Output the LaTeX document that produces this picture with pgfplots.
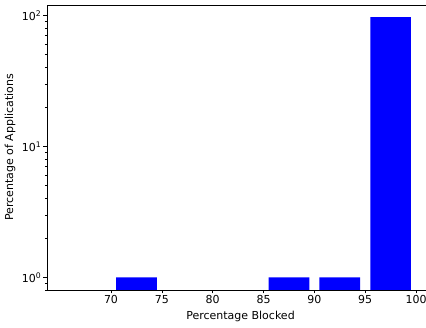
\documentclass[border=0pt]{standalone}
\usepackage{fontspec}
\setmainfont{DejaVu Sans}
\usepackage{pgfplots}
\pgfplotsset{compat=1.18}
\begin{document}
\fontsize{11}{13}\selectfont
\begin{tikzpicture}
\begin{axis}[
  at={(0,0)}, anchor=south west,
  scale only axis, width=387pt, height=285pt,
  xmin=63.705, xmax=101.77,
  ymode=log, ymin=0.8, ymax=120,
  log origin y=infty,
  xtick={70,75,80,85,90,95,100},
  ytick={1,10,100},
  yticklabels={10\textsuperscript{0},10\textsuperscript{1},10\textsuperscript{2}},
  minor ytick={0.8,0.9,2,3,4,5,6,7,8,9,20,30,40,50,60,70,80,90},
  /pgf/number format/assume math mode=true,
  tick pos=left,
  tick align=outside,
  major tick length=3.5pt,
  minor tick length=2pt,
  every tick/.style={black, line width=0.6pt},
  axis line style={black, line width=0.7pt},
  xticklabel style={font=\fontsize{11}{13}\selectfont, inner sep=1pt, yshift=-1pt},
  yticklabel style={font=\fontsize{11}{13}\selectfont, inner sep=1pt, xshift=-1pt},
  xlabel={Percentage Blocked},
  ylabel={Percentage of Applications},
  xlabel style={at={(axis description cs:0.5,0)}, anchor=center, yshift=-26pt, font=\fontsize{11}{13}\selectfont},
  ylabel style={at={(axis description cs:-0.0956,0.5)}, anchor=center, font=\fontsize{11}{13}\selectfont},
]
\addplot[ybar, bar width=4, fill=blue, draw=none] coordinates {(72.5,1) (87.5,1) (92.5,1) (97.5,97)};
\end{axis}
\pgfresetboundingbox
\useasboundingbox (-47pt,-38pt) rectangle (379pt,290pt);
\end{tikzpicture}
\end{document}
